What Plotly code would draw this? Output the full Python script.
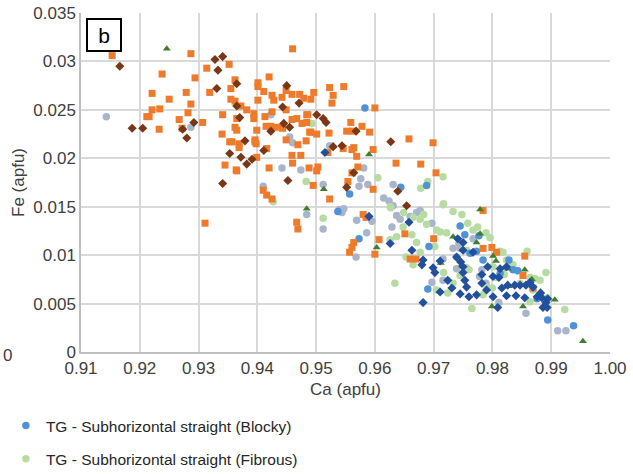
import plotly.graph_objects as go

# ---------------- data (Ca apfu, Fe apfu) ----------------
blocky_x = [0.9583, 0.9557, 0.9644, 0.9688, 0.9573, 0.9537, 0.9745, 0.9753, 0.9762, 0.9784,
            0.9773, 0.9813, 0.9835, 0.9843, 0.9690, 0.9876, 0.9894, 0.9938, 0.9692, 0.9828, 0.9777]
blocky_y = [0.0252, 0.0163, 0.0170, 0.0172, 0.0117, 0.0145, 0.0130, 0.0121, 0.0102, 0.0095,
            0.0104, 0.0081, 0.0085, 0.0084, 0.0065, 0.0055, 0.0033, 0.0027, 0.0109, 0.0095, 0.0120]

fibrous_x = [0.9493, 0.9483, 0.9427, 0.9605, 0.9678, 0.9690, 0.9716, 0.9627, 0.9717, 0.9649,
             0.9665, 0.9512, 0.9634, 0.9626, 0.9637, 0.9648, 0.9663, 0.9671, 0.9677, 0.9665,
             0.9653, 0.9626, 0.9683, 0.9688, 0.9705, 0.9716, 0.9722, 0.9733, 0.9748, 0.9705,
             0.9724, 0.9717, 0.9733, 0.9756, 0.9767, 0.9775, 0.9765, 0.9789, 0.9796, 0.9801,
             0.9807, 0.9813, 0.9818, 0.9835, 0.9847, 0.9859, 0.9864, 0.9869, 0.9881, 0.9891,
             0.9894, 0.9923, 0.9784, 0.9790, 0.9824, 0.9745, 0.9864, 0.9872, 0.9758, 0.9711,
             0.9702, 0.9756, 0.9829, 0.9677, 0.9760, 0.9800, 0.9820]
fibrous_y = [0.0236, 0.0176, 0.0155, 0.0180, 0.0169, 0.0176, 0.0181, 0.0149, 0.0153, 0.0144,
             0.0139, 0.0138, 0.0071, 0.0116, 0.0119, 0.0129, 0.0121, 0.0113, 0.0103, 0.0090,
             0.0098, 0.0150, 0.0142, 0.0132, 0.0126, 0.0152, 0.0123, 0.0145, 0.0142, 0.0064,
             0.0061, 0.0082, 0.0071, 0.0087, 0.0126, 0.0129, 0.0045, 0.0123, 0.0118, 0.0088,
             0.0077, 0.0104, 0.0103, 0.0090, 0.0071, 0.0104, 0.0077, 0.0064, 0.0074, 0.0082,
             0.0056, 0.0044, 0.0059, 0.0067, 0.0095, 0.0079, 0.0052, 0.0076, 0.0133, 0.0124,
             0.0109, 0.0105, 0.0092, 0.0137, 0.0085, 0.0066, 0.0080]

gray_x = [0.9143, 0.9287, 0.9423, 0.9455, 0.9460, 0.9442, 0.9474, 0.9410, 0.9484, 0.9523,
          0.9581, 0.9576, 0.9588, 0.9512, 0.9631, 0.9615, 0.9624, 0.9512, 0.9540, 0.9547,
          0.9569, 0.9586, 0.9568, 0.9573, 0.9631, 0.9637, 0.9643, 0.9660, 0.9671, 0.9677,
          0.9697, 0.9716, 0.9739, 0.9697, 0.9782, 0.9789, 0.9811, 0.9857, 0.9911, 0.9925,
          0.9743, 0.9767, 0.9733, 0.9595, 0.9629, 0.9544, 0.9739, 0.9716, 0.9778, 0.9745]
gray_y = [0.0243, 0.0232, 0.0245, 0.0222, 0.0216, 0.0190, 0.0188, 0.0171, 0.0142, 0.0213,
          0.0190, 0.0179, 0.0173, 0.0173, 0.0173, 0.0159, 0.0156, 0.0127, 0.0147, 0.0148,
          0.0136, 0.0123, 0.0098, 0.0171, 0.0151, 0.0141, 0.0137, 0.0140, 0.0144, 0.0146,
          0.0133, 0.0096, 0.0098, 0.0072, 0.0085, 0.0071, 0.0051, 0.0040, 0.0022, 0.0022,
          0.0112, 0.0117, 0.0107, 0.0135, 0.0129, 0.0144, 0.0086, 0.0074, 0.0078, 0.0107]

orange_x = [0.9153, 0.9287, 0.9460, 0.9238, 0.9294, 0.9314, 0.9352, 0.9221, 0.9250, 0.9279,
            0.9287, 0.9319, 0.9221, 0.9234, 0.9216, 0.9212, 0.9233, 0.9267, 0.9272, 0.9282,
            0.9307, 0.9355, 0.9362, 0.9355, 0.9372, 0.9382, 0.9341, 0.9365, 0.9362, 0.9340,
            0.9353, 0.9369, 0.9369, 0.9345, 0.9365, 0.9394, 0.9394, 0.9401, 0.9401, 0.9411,
            0.9401, 0.9420, 0.9425, 0.9428, 0.9442, 0.9449, 0.9459, 0.9472, 0.9479, 0.9491,
            0.9496, 0.9413, 0.9425, 0.9415, 0.9423, 0.9433, 0.9443, 0.9399, 0.9396, 0.9398,
            0.9399, 0.9416, 0.9449, 0.9459, 0.9467, 0.9476, 0.9484, 0.9491, 0.9483, 0.9469,
            0.9459, 0.9474, 0.9460, 0.9420, 0.9488, 0.9501, 0.9495, 0.9410, 0.9416, 0.9425,
            0.9311, 0.9467, 0.9469, 0.9523, 0.9547, 0.9529, 0.9527, 0.9600, 0.9484, 0.9489,
            0.9501, 0.9522, 0.9552, 0.9559, 0.9578, 0.9561, 0.9591, 0.9658, 0.9699, 0.9546,
            0.9561, 0.9564, 0.9597, 0.9569, 0.9520, 0.9636, 0.9678, 0.9503, 0.9571, 0.9704,
            0.9561, 0.9554, 0.9597, 0.9523, 0.9580, 0.9585, 0.9651, 0.9607, 0.9564, 0.9561,
            0.9557, 0.9600, 0.9660, 0.9670, 0.9700, 0.9784, 0.9784, 0.9799, 0.9807, 0.9855,
            0.9852, 0.9869, 0.9362, 0.9365, 0.9449, 0.9357, 0.9396, 0.9364, 0.9486]
orange_y = [0.0306, 0.0308, 0.0313, 0.0287, 0.0283, 0.0293, 0.0297, 0.0267, 0.0261, 0.0268,
            0.0256, 0.0268, 0.0250, 0.0251, 0.0243, 0.0243, 0.0230, 0.0240, 0.0231, 0.0247,
            0.0237, 0.0272, 0.0259, 0.0261, 0.0254, 0.0250, 0.0245, 0.0241, 0.0232, 0.0225,
            0.0217, 0.0215, 0.0211, 0.0193, 0.0187, 0.0246, 0.0241, 0.0278, 0.0274, 0.0269,
            0.0260, 0.0284, 0.0265, 0.0260, 0.0263, 0.0270, 0.0266, 0.0266, 0.0262, 0.0261,
            0.0268, 0.0243, 0.0248, 0.0233, 0.0233, 0.0232, 0.0231, 0.0229, 0.0219, 0.0215,
            0.0201, 0.0210, 0.0219, 0.0240, 0.0241, 0.0236, 0.0237, 0.0227, 0.0218, 0.0214,
            0.0203, 0.0203, 0.0195, 0.0190, 0.0190, 0.0187, 0.0172, 0.0167, 0.0162, 0.0158,
            0.0133, 0.0134, 0.0127, 0.0273, 0.0274, 0.0265, 0.0257, 0.0252, 0.0245, 0.0227,
            0.0225, 0.0226, 0.0228, 0.0237, 0.0233, 0.0228, 0.0227, 0.0220, 0.0216, 0.0210,
            0.0209, 0.0211, 0.0209, 0.0202, 0.0206, 0.0195, 0.0194, 0.0191, 0.0191, 0.0185,
            0.0185, 0.0176, 0.0168, 0.0158, 0.0142, 0.0139, 0.0122, 0.0116, 0.0113, 0.0108,
            0.0103, 0.0101, 0.0096, 0.0096, 0.0117, 0.0146, 0.0107, 0.0108, 0.0103, 0.0099,
            0.0079, 0.0066, 0.0281, 0.0229, 0.0250, 0.0217, 0.0217, 0.0188, 0.0245]

brown_x = [0.9166, 0.9187, 0.9205, 0.9273, 0.9292, 0.9280, 0.9328, 0.9341, 0.9333, 0.9331,
           0.9365, 0.9365, 0.9370, 0.9379, 0.9353, 0.9372, 0.9382, 0.9391, 0.9411, 0.9341,
           0.9423, 0.9443, 0.9450, 0.9445, 0.9455, 0.9471, 0.9501, 0.9452, 0.9512, 0.9517,
           0.9568, 0.9627, 0.9529, 0.9544, 0.9564, 0.9552, 0.9639, 0.9654]
brown_y = [0.0295, 0.0231, 0.0231, 0.0230, 0.0237, 0.0221, 0.0302, 0.0305, 0.0291, 0.0272,
           0.0277, 0.0254, 0.0242, 0.0218, 0.0205, 0.0201, 0.0194, 0.0199, 0.0208, 0.0174,
           0.0228, 0.0253, 0.0275, 0.0236, 0.0232, 0.0257, 0.0245, 0.0177, 0.0241, 0.0237,
           0.0228, 0.0217, 0.0212, 0.0213, 0.0185, 0.0170, 0.0166, 0.0151]

tri_x = [0.9246, 0.9590, 0.9513, 0.9484, 0.9603, 0.9712, 0.9733, 0.9748, 0.9773, 0.9779,
         0.9779, 0.9801, 0.9806, 0.9799, 0.9826, 0.9852, 0.9867, 0.9906, 0.9954, 0.9828, 0.9855]
tri_y = [0.0313, 0.0204, 0.0168, 0.0148, 0.0108, 0.0092, 0.0119, 0.0090, 0.0113, 0.0147,
         0.0122, 0.0099, 0.0094, 0.0047, 0.0086, 0.0047, 0.0075, 0.0054, 0.0011, 0.0068, 0.0085]

dblue_x = [0.9515, 0.9590, 0.9626, 0.9658, 0.9663, 0.9682, 0.9682, 0.9699, 0.9702, 0.9711,
           0.9711, 0.9724, 0.9731, 0.9739, 0.9746, 0.9750, 0.9750, 0.9750, 0.9753, 0.9745,
           0.9756, 0.9760, 0.9767, 0.9782, 0.9782, 0.9792, 0.9790, 0.9801, 0.9809, 0.9811,
           0.9813, 0.9824, 0.9826, 0.9838, 0.9840, 0.9847, 0.9857, 0.9864, 0.9869, 0.9855,
           0.9876, 0.9884, 0.9886, 0.9893, 0.9891, 0.9894, 0.9882, 0.9741, 0.9750, 0.9773,
           0.9816, 0.9824, 0.9801, 0.9680]
dblue_y = [0.0206, 0.0140, 0.0112, 0.0134, 0.0105, 0.0095, 0.0051, 0.0087, 0.0082, 0.0094,
           0.0062, 0.0074, 0.0066, 0.0098, 0.0093, 0.0105, 0.0088, 0.0082, 0.0074, 0.0060,
           0.0067, 0.0057, 0.0103, 0.0080, 0.0071, 0.0088, 0.0064, 0.0057, 0.0046, 0.0077,
           0.0086, 0.0088, 0.0069, 0.0069, 0.0058, 0.0069, 0.0069, 0.0072, 0.0067, 0.0056,
           0.0057, 0.0056, 0.0046, 0.0046, 0.0051, 0.0055, 0.0061, 0.0117, 0.0113, 0.0059,
           0.0066, 0.0058, 0.0078, 0.0090]

y_ticks = [0, 0.005, 0.01, 0.015, 0.02, 0.025, 0.03, 0.035]
y_tick_text = ["0", "0.005", "0.01", "0.015", "0.02", "0.025", "0.03", "0.035"]
x_ticks = [0.91, 0.92, 0.93, 0.94, 0.95, 0.96, 0.97, 0.98, 0.99, 1.00]
x_tick_text = ["0.91", "0.92", "0.93", "0.94", "0.95", "0.96", "0.97", "0.98", "0.99", "1.00"]

FONT = "Liberation Sans, Arial, sans-serif"
TXT = "#404040"

fig = go.Figure()

def add(x, y, name, color, symbol, size, show, group, rank):
    fig.add_trace(go.Scatter(
        x=x, y=y, mode="markers", name=name, showlegend=show, legendgroup=group,
        legendrank=rank,
        marker=dict(color=color, symbol=symbol, size=size, line=dict(width=0)),
    ))

add(gray_x, gray_y, "gray", "#A9B5CA", "circle", 7.5, False, "g3", 3)
add(fibrous_x, fibrous_y, "TG - Subhorizontal straight (Fibrous)", "#B7DCA2", "circle", 7.5, True, "g2", 2)
add(blocky_x, blocky_y, "TG - Subhorizontal straight (Blocky)", "#4F93D6", "circle", 7.5, True, "g1", 1)
add(orange_x, orange_y, "orange", "#EE7A2C", "square", 7, False, "g4", 4)
add(brown_x, brown_y, "brown", "#7A3716", "diamond", 7, False, "g5", 5)
add(tri_x, tri_y, "triangle", "#3F7E2C", "triangle-up", 7, False, "g6", 6)
add(dblue_x, dblue_y, "darkblue", "#22509C", "diamond", 7, False, "g7", 7)

fig.update_layout(
    width=633, height=474,
    margin=dict(l=81, r=23, t=13, b=122, autoexpand=False),
    paper_bgcolor="white", plot_bgcolor="white",
    font=dict(family=FONT, color=TXT, size=16),
    legend=dict(x=-0.142, y=-0.168, xanchor="left", yanchor="top",
                traceorder="grouped", tracegroupgap=10,
                font=dict(family=FONT, size=15.5, color="#262626"),
                itemwidth=30),
    xaxis=dict(range=[0.91, 1.0], tickvals=x_ticks, ticktext=x_tick_text,
               showgrid=True, gridcolor="#D9D9D9", gridwidth=1.5, automargin=False,
               showline=True, linecolor="#BFBFBF", linewidth=1.5, mirror=False,
               zeroline=False, ticks="", tickfont=dict(size=17, color=TXT),
               title=dict(text="Ca (apfu)", font=dict(size=17, color=TXT), standoff=6)),
    yaxis=dict(range=[0, 0.035], tickvals=y_ticks, ticktext=y_tick_text,
               showgrid=True, gridcolor="#D9D9D9", gridwidth=1.5, automargin=False,
               showline=True, linecolor="#BFBFBF", linewidth=1.5,
               zeroline=False, ticks="", tickfont=dict(size=17, color=TXT),
               title=dict(text="Fe (apfu)", font=dict(size=17, color=TXT), standoff=4)),
)

fig.add_annotation(x=0.0, y=1.0, xref="paper", yref="paper", xanchor="left", yanchor="top",
                   xshift=5, yshift=-5, text="b", showarrow=False,
                   font=dict(family=FONT, size=21, color="#000000"),
                   bordercolor="#000000", borderwidth=2, borderpad=3, bgcolor="white",
                   width=26, height=24)

fig.add_annotation(x=-0.152, y=0.0, xref="paper", yref="paper", xanchor="left", yanchor="middle",
                   text="0", showarrow=False, yshift=-3,
                   font=dict(family=FONT, size=17, color=TXT))

fig.write_html("out.html")
